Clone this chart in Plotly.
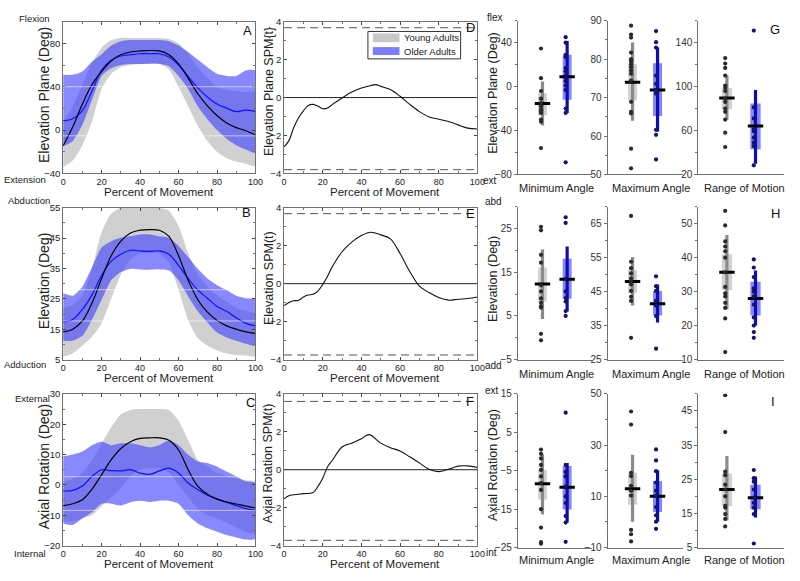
import plotly.graph_objects as go

W, H = 800, 581

# ---------------- time-normalised curves (percent of movement) ----------------
pct = [0, 5, 10, 15, 20, 25, 30, 35, 40, 45, 50, 55, 60, 65, 70, 75, 80, 85, 90, 95, 100]

# Panel A : elevation plane
A_young_mean = [-14.5, 3, 24, 42, 54, 64, 69.5, 72, 73, 73.4, 73, 69.5, 61, 48, 33.5, 22.4, 13.4, 6.5, 2.3, -0.6, -4.5]
A_young_up = [8, 22, 42, 62, 76, 83, 85, 85, 85, 85, 85, 84, 80, 70, 58, 48, 40, 37, 36, 35, 35]
A_young_lo = [-34, -28, -14, 8, 38, 52, 58, 60, 61, 62, 61, 56, 40, 22, 4, -10, -20, -26, -29, -31, -33]
A_older_mean = [8.5, 10.4, 18, 36, 55.4, 64.4, 68.3, 69.5, 70.4, 70.4, 70.4, 67.4, 60, 49.4, 39, 30.5, 24, 20.3, 17, 18.5, 17.3]
A_older_up = [51, 51, 54, 63, 70, 78, 82, 83, 83, 83, 83, 82, 78, 72, 65, 58, 52, 50, 50, 55, 55]
A_older_lo = [-15, -10, 5, 28, 50, 57, 60, 61, 61, 61, 61, 59, 50, 38, 22, 10, 0, -8, -14, -18, -21]

# Panel B : elevation
B_young_mean = [14.1, 15, 17.7, 23.6, 31.7, 39.2, 44, 46.7, 47.6, 47.8, 47.6, 45.6, 39.2, 31.1, 24.7, 20.6, 17.9, 16.1, 15, 14.1, 13.6]
B_young_up = [22, 23, 26, 35, 47, 53, 55, 55, 55, 55, 55, 54, 49, 40, 33, 29, 26, 24, 22, 21, 20]
B_young_lo = [5.9, 7, 9.6, 12.5, 17, 25, 33, 38, 40, 40, 40, 37, 28, 18, 12, 9.6, 8, 7, 6.5, 6.3, 6.2]
B_older_mean = [17.4, 18.2, 21.5, 26.3, 32.7, 37.4, 39.7, 41, 40.8, 40.6, 40.8, 39.7, 36, 31.7, 27.9, 25.2, 22.5, 20.9, 18.8, 16.9, 16.1]
B_older_up = [26.8, 26, 29, 35.4, 41.9, 44, 45.1, 45.6, 46.2, 46.2, 45.6, 45.1, 42.4, 38.7, 34.9, 31.7, 29.5, 27.9, 26, 25.2, 24.7]
B_older_lo = [11.2, 11.2, 12.8, 18.2, 24.7, 31.1, 33.8, 34.9, 34.7, 34.6, 34.7, 34.4, 31.1, 25.8, 20.9, 17.2, 13.9, 12.3, 11.2, 10.2, 9.6]

# Panel C : axial rotation
C_young_mean = [-6.8, -6.2, -4.9, -1.4, 3.4, 8.3, 12, 14.2, 15.3, 15.5, 15.5, 14.7, 11.5, 5, -0.4, -3.1, -4.7, -5.6, -6.3, -7, -7.6]
C_young_up = [1, 2, 4, 8, 13.7, 19, 23.3, 24.7, 25, 25, 25, 24.7, 21.2, 14.7, 8.2, 6, 4, 3, 2, 1.5, 1]
C_young_lo = [-12, -12, -11, -10, -7, -4, -1, 3, 5, 5.5, 5.5, 4, 0, -4, -8, -10, -11, -12.5, -14, -15.5, -16]
C_older_mean = [-2, -1.8, -0.4, 2.8, 5, 4.7, 4.6, 5, 3.9, 3.5, 4.6, 5.5, 3.9, 0.6, -1.5, -3.4, -4.7, -5.8, -6.8, -7.8, -8.4]
C_older_up = [9.4, 10, 11, 13.1, 14.2, 13.1, 13.7, 13.7, 13.1, 12.4, 13.1, 14.7, 13.1, 9.9, 7.7, 7.2, 6, 4.4, 2.8, 1.2, 0.6]
C_older_lo = [-12.7, -13.2, -11, -9, -6.2, -6.2, -6.8, -5.7, -5.2, -5.6, -5.2, -5.2, -6.2, -10, -12.7, -14.3, -15.4, -16.5, -17.3, -18, -17.7]

# faint light rules that run across the bands in the original panels
A_rules = [40, -5.3]
B_rules = [28, 17.7]
C_rules = [2.7, -8.4]

# SPM{t} curves
D_x = [0, 2.5, 5, 7.5, 10, 12.5, 15, 17.5, 20, 22.5, 25, 30, 35, 40, 45, 47.5, 50, 55, 60, 65, 70, 75, 80, 85, 90, 95, 100]
D_t = [-2.6, -2.27, -1.58, -1.06, -0.7, -0.42, -0.36, -0.45, -0.59, -0.55, -0.36, -0.02, 0.29, 0.5, 0.64, 0.68, 0.59, 0.42, 0.07, -0.36, -0.74, -1.02, -1.14, -1.26, -1.44, -1.61, -1.66]
E_x = [0, 2.5, 5, 7.5, 10, 12.5, 15, 17.5, 20, 22.5, 25, 30, 35, 40, 45, 50, 55, 60, 65, 70, 75, 80, 85, 90, 95, 100]
E_t = [-1.16, -0.99, -0.9, -0.88, -0.7, -0.6, -0.56, -0.39, -0.04, 0.39, 0.9, 1.68, 2.19, 2.54, 2.71, 2.57, 2.36, 1.59, 0.64, -0.13, -0.47, -0.73, -0.87, -0.82, -0.78, -0.7]
F_x = [0, 2.5, 5, 10, 15, 17.5, 20, 22.5, 25, 30, 35, 40, 44, 50, 55, 60, 65, 70, 75, 80, 85, 90, 95, 100]
F_t = [-1.54, -1.37, -1.32, -1.26, -1.2, -0.88, -0.45, 0.16, 0.5, 1.2, 1.4, 1.63, 1.85, 1.4, 1.16, 0.99, 0.68, 0.36, 0.02, -0.1, 0.02, 0.19, 0.2, 0.12]
D_thr = [3.68, -3.8]
E_thr = [3.69, -3.76]
F_thr = [3.6, -3.72]

# ---------------- summary boxes: stats = [whisker_lo, q1, median, q3, whisker_hi] ----------------
G_min_young_dots = [34.7, 7.7, -4, -11, -15, -18, -21, -23, -24, -30, -32, -56]
G_min_young_stats = [-35.5, -26, -15.4, -6, 4.7]
G_min_older_dots = [45, 40, 29, 27, 17, 14, 10, 8, 5, 1, -3, -20, -24, -69]
G_min_older_stats = [-24, -12, 9, 29, 41.5]
G_max_young_dots = [88.7, 86.4, 85.6, 81.7, 80, 79.4, 78.7, 77.9, 77, 76.2, 74.4, 68.9, 66.3, 65.9, 56.7, 51.6]
G_max_young_stats = [64, 69.3, 74, 78.7, 84.3]
G_max_older_dots = [87.3, 84.4, 83, 75.7, 73.6, 72, 71, 61.6, 60.3, 53.9]
G_max_older_stats = [61.2, 65.2, 72, 78.9, 83]
G_rom_young_dots = [126, 121, 117, 110, 101, 99, 96, 89, 86, 80, 77, 70, 58, 45]
G_rom_young_stats = [70, 79.3, 89.6, 98.8, 110]
G_rom_older_dots = [151, 81, 71, 61.5, 59.4, 53.5, 49, 46, 28.3]
G_rom_older_stats = [29.8, 43, 64, 84.6, 97]

H_min_young_dots = [25.4, 24.6, 19, 17.2, 12, 10.6, 9, 8, 7.2, 6.9, 0.9, -0.6]
H_min_young_stats = [4.3, 8.3, 12.3, 16.1, 20.2]
H_min_older_dots = [27.6, 26.3, 13.5, 10.6, 9.1, 8.3, 6.1, 5]
H_min_older_stats = [6, 8.9, 13.4, 18.1, 20.9]
H_max_young_dots = [67.3, 53.8, 51.9, 50.4, 48.9, 48, 47.1, 45.2, 43.5, 42.3, 31.4]
H_max_young_stats = [40.9, 44.7, 48, 51.4, 55.2]
H_max_older_dots = [49.5, 46.6, 45.2, 42.3, 40.9, 37.8, 28.2]
H_max_older_stats = [35.9, 38, 41.4, 45.2, 47.1]
H_rom_young_dots = [53.8, 49.5, 44.8, 43.3, 41.9, 40, 35.7, 31.4, 29.5, 28.6, 26.7, 25.2, 22.1, 12.2]
H_rom_young_stats = [24.8, 30.5, 35.7, 41, 46.7]
H_rom_older_dots = [39.5, 37.1, 34.3, 31, 30, 28.6, 26.2, 22.4, 20, 18.1, 16.4]
H_rom_older_stats = [20, 23, 28, 32.9, 36.2]

I_min_young_dots = [0.5, -0.6, -1.8, -3.5, -4.8, -6.5, -8.2, -10, -15, -19.8, -23.6, -24]
I_min_young_stats = [-16.4, -12.5, -8.4, -4.8, -0.7]
I_min_older_dots = [10.1, -3.5, -5.3, -6.5, -9.1, -11.7, -13.4, -16.8, -18.5, -23.5]
I_min_older_stats = [-18.5, -15.1, -9.3, -3.8, -3]
I_max_young_dots = [43.1, 38, 19.2, 17.9, 14.1, 12.2, 10.3, -3.1, -4.8, -7.6]
I_max_young_stats = [0.1, 6.7, 13, 19.2, 26.2]
I_max_older_dots = [28.3, 24, 19.8, 15.4, 12.2, 10.3, 5.8, 2.6, 0.1, -2.7]
I_max_older_stats = [0.1, 3.9, 10, 16, 20.2]
I_rom_young_dots = [49.6, 38.8, 27.2, 26.2, 23.4, 22, 20, 17.2, 16.7, 14.8, 13.4, 11.2]
I_rom_young_stats = [12.9, 17.2, 22, 26.7, 31.8]
I_rom_older_dots = [27.7, 25.3, 24.3, 22, 19.6, 18.1, 16.7, 14.8, 6.2]
I_rom_older_stats = [13.8, 16.2, 19.6, 23.4, 25.8]

group_pos = [1, 2]          # young, older
group_names = ["Young Adults", "Older Adults"]

# ---------------- styling ----------------
REG = "Liberation Sans, Arial, sans-serif"
GRAY_FILL = "rgba(200,200,200,0.85)"
BLUE_FILL = "rgba(64,64,255,0.62)"
BOX_COL = ["#d2d2d2", "#8585ff"]
WHISK_COL = ["#8a8a8a", "#0d0db0"]
DOT_COL = ["#2a2a2a", "#141470"]
AXC = "#707070"

rows_px = [(16, 171), (206, 361), (396, 551)]
rows3_px = [(15, 172), (205, 361), (396, 553)]
col1 = (61, 256)
col2 = (285, 481)
col3 = [(522, 597), (613, 689), (705, 792)]

def xd(a, b):
    return [a / W, b / W]

def yd(t, b):
    return [1 - b / H, 1 - t / H]

fig = go.Figure()
layout = dict(width=W, height=H, autosize=False, margin=dict(l=0, r=0, t=0, b=0),
              paper_bgcolor="white", plot_bgcolor="white", barmode="overlay",
              showlegend=False)
shapes = []

counter = [0]

def new_axes(xdom, ydom, xcfg, ycfg):
    counter[0] += 1
    i = counter[0]
    s = "" if i == 1 else str(i)
    layout["xaxis" + s] = dict(domain=xdom, anchor="y" + s, **xcfg)
    layout["yaxis" + s] = dict(domain=ydom, anchor="x" + s, **ycfg)
    return "x" + s, "y" + s

def ts_axes(xdom, ydom, yrange, ytick):
    step = ytick[1] - ytick[0]
    xcfg = dict(range=[0, 100], tickvals=[0, 20, 40, 60, 80, 100], ticks="inside", ticklen=3,
                showline=True, linecolor=AXC, linewidth=1, mirror="ticks", showgrid=False,
                zeroline=False, tickfont=dict(family=REG, size=9, color="#222"),
                minor=dict(ticks="inside", ticklen=2, dtick=10, tick0=0, tickcolor=AXC))
    ycfg = dict(range=yrange, tickvals=ytick, ticks="inside", ticklen=3,
                showline=True, linecolor=AXC, linewidth=1, mirror="ticks", showgrid=False,
                zeroline=False, tickfont=dict(family=REG, size=9.5, color="#222"),
                minor=dict(ticks="inside", ticklen=2, dtick=step / 2, tick0=ytick[0], tickcolor=AXC))
    return new_axes(xdom, ydom, xcfg, ycfg)

def box_axes(xdom, ydom, yrange, ytick):
    step = ytick[1] - ytick[0]
    xcfg = dict(range=[0, 3], showticklabels=False, ticks="", showline=True, linecolor=AXC,
                linewidth=1, showgrid=False, zeroline=False, fixedrange=True)
    ycfg = dict(range=yrange, tickvals=ytick, ticks="outside", ticklen=3, tickcolor=AXC,
                showline=True, linecolor=AXC, linewidth=1, showgrid=False, zeroline=False,
                tickfont=dict(family=REG, size=10, color="#333"),
                minor=dict(ticks="outside", ticklen=2, dtick=step / 2, tick0=ytick[0], tickcolor=AXC))
    return new_axes(xdom, ydom, xcfg, ycfg)

def add_kinematics(xa, ya, ym, yu, yl, om, ou, ol, rules):
    fig.add_trace(go.Scatter(x=pct + pct[::-1], y=yu + yl[::-1], fill="toself", fillcolor=GRAY_FILL,
                             line=dict(width=0, shape="spline", smoothing=0.6), mode="lines",
                             name=group_names[0], hoverinfo="skip", xaxis=xa, yaxis=ya))
    fig.add_trace(go.Scatter(x=pct + pct[::-1], y=ou + ol[::-1], fill="toself", fillcolor=BLUE_FILL,
                             line=dict(width=0, shape="spline", smoothing=0.6), mode="lines",
                             name=group_names[1], hoverinfo="skip", xaxis=xa, yaxis=ya))
    for r in rules:
        shapes.append(dict(type="line", xref=xa + " domain", yref=ya, x0=0, x1=1, y0=r, y1=r,
                           line=dict(color="rgba(255,255,255,0.55)", width=1), layer="above"))
    fig.add_trace(go.Scatter(x=pct, y=om, mode="lines", line=dict(color="#1010ff", width=1.2, shape="spline"),
                             xaxis=xa, yaxis=ya))
    fig.add_trace(go.Scatter(x=pct, y=ym, mode="lines", line=dict(color="#000000", width=1.2, shape="spline"),
                             xaxis=xa, yaxis=ya))

def add_spm(xa, ya, xs, ts, thr):
    for t in thr:
        fig.add_trace(go.Scatter(x=[0, 100], y=[t, t], mode="lines",
                                 line=dict(color="#555", width=1, dash="8px,5px"),
                                 xaxis=xa, yaxis=ya))
    fig.add_trace(go.Scatter(x=[0, 100], y=[0, 0], mode="lines", line=dict(color="#222", width=1),
                             xaxis=xa, yaxis=ya))
    fig.add_trace(go.Scatter(x=xs, y=ts, mode="lines", line=dict(color="#111", width=1.1, shape="spline"),
                             xaxis=xa, yaxis=ya))

def add_boxes(xa, ya, groups):
    for g, (dots, st) in enumerate(groups):
        p = group_pos[g]
        fig.add_trace(go.Scatter(x=[p, p], y=[st[0], st[4]], mode="lines",
                                 line=dict(color=WHISK_COL[g], width=3.2), xaxis=xa, yaxis=ya))
        fig.add_trace(go.Bar(x=[p], y=[st[3] - st[1]], base=[st[1]], width=0.36,
                             marker=dict(color=BOX_COL[g], line=dict(width=0)), xaxis=xa, yaxis=ya))
        fig.add_trace(go.Scatter(x=[p], y=[st[2]], mode="markers",
                                 marker=dict(symbol="line-ew", size=11, line=dict(color="#000", width=3)),
                                 xaxis=xa, yaxis=ya))
        fig.add_trace(go.Scatter(x=[p - 0.06] * len(dots), y=dots, mode="markers",
                                 marker=dict(color=DOT_COL[g], size=4.2), xaxis=xa, yaxis=ya))

# ---------------- row 1 ----------------
xa, ya = ts_axes(xd(*col1), yd(*rows_px[0]), [-40, 100], [-40, 0, 40, 80])
add_kinematics(xa, ya, A_young_mean, A_young_up, A_young_lo, A_older_mean, A_older_up, A_older_lo, A_rules)
xa, ya = ts_axes(xd(*col2), yd(*rows_px[0]), [-4, 4], [-4, -2, 0, 2, 4])
add_spm(xa, ya, D_x, D_t, D_thr)
xa, ya = box_axes(xd(*col3[0]), yd(*rows3_px[0]), [-80, 60], [-80, -40, 0, 40])
add_boxes(xa, ya, [(G_min_young_dots, G_min_young_stats), (G_min_older_dots, G_min_older_stats)])
xa, ya = box_axes(xd(*col3[1]), yd(*rows3_px[0]), [50, 90], [50, 60, 70, 80, 90])
add_boxes(xa, ya, [(G_max_young_dots, G_max_young_stats), (G_max_older_dots, G_max_older_stats)])
xa, ya = box_axes(xd(*col3[2]), yd(*rows3_px[0]), [20, 160], [20, 60, 100, 140])
add_boxes(xa, ya, [(G_rom_young_dots, G_rom_young_stats), (G_rom_older_dots, G_rom_older_stats)])

# ---------------- row 2 ----------------
xa, ya = ts_axes(xd(*col1), yd(*rows_px[1]), [5, 55], [5, 15, 25, 35, 45, 55])
add_kinematics(xa, ya, B_young_mean, B_young_up, B_young_lo, B_older_mean, B_older_up, B_older_lo, B_rules)
xa, ya = ts_axes(xd(*col2), yd(*rows_px[1]), [-4, 4], [-4, -2, 0, 2, 4])
add_spm(xa, ya, E_x, E_t, E_thr)
xa, ya = box_axes(xd(*col3[0]), yd(*rows3_px[1]), [-5, 30], [-5, 5, 15, 25])
add_boxes(xa, ya, [(H_min_young_dots, H_min_young_stats), (H_min_older_dots, H_min_older_stats)])
xa, ya = box_axes(xd(*col3[1]), yd(*rows3_px[1]), [25, 70], [25, 35, 45, 55, 65])
add_boxes(xa, ya, [(H_max_young_dots, H_max_young_stats), (H_max_older_dots, H_max_older_stats)])
xa, ya = box_axes(xd(*col3[2]), yd(*rows3_px[1]), [10, 55], [10, 20, 30, 40, 50])
add_boxes(xa, ya, [(H_rom_young_dots, H_rom_young_stats), (H_rom_older_dots, H_rom_older_stats)])

# ---------------- row 3 ----------------
xa, ya = ts_axes(xd(*col1), yd(*rows_px[2]), [-20, 30], [-20, -10, 0, 10, 20, 30])
add_kinematics(xa, ya, C_young_mean, C_young_up, C_young_lo, C_older_mean, C_older_up, C_older_lo, C_rules)
xa, ya = ts_axes(xd(*col2), yd(*rows_px[2]), [-4, 4], [-4, -2, 0, 2, 4])
add_spm(xa, ya, F_x, F_t, F_thr)
xa, ya = box_axes(xd(*col3[0]), yd(*rows3_px[2]), [-25, 15], [-25, -15, -5, 5, 15])
add_boxes(xa, ya, [(I_min_young_dots, I_min_young_stats), (I_min_older_dots, I_min_older_stats)])
xa, ya = box_axes(xd(*col3[1]), yd(*rows3_px[2]), [-10, 50], [-10, 10, 30, 50])
add_boxes(xa, ya, [(I_max_young_dots, I_max_young_stats), (I_max_older_dots, I_max_older_stats)])
xa, ya = box_axes(xd(*col3[2]), yd(*rows3_px[2]), [5, 50], [5, 15, 25, 35, 45])
add_boxes(xa, ya, [(I_rom_young_dots, I_rom_young_stats), (I_rom_older_dots, I_rom_older_stats)])

# ---------------- text ----------------
ann = []

def txt(s, px, py, size=12, xa="center", ya="middle", angle=0, color="#222"):
    ann.append(dict(text=s, x=px / W, y=1 - py / H, xref="paper", yref="paper", showarrow=False,
                    xanchor=xa, yanchor=ya, textangle=angle,
                    font=dict(family=REG, size=size, color=color)))

ytitles1 = ["Elevation Plane (Deg)", "Elevation (Deg)", "Axial Rotation (Deg)"]
ytitles2 = ["Elevation Plane SPM{t}", "Elevation SPM(t)", "Axial Rotation SPM(t)"]
for r, (t, b) in enumerate(rows_px):
    mid = (t + b) / 2
    txt(ytitles1[r], 41, mid - 3, size=14, angle=-90)
    txt(ytitles2[r], 269, mid - 6, size=12.5, angle=-90)
    txt(ytitles1[r], 497, mid - 5, size=12.5, angle=-90)
    txt("Percent of Movement", 158, b + 19, size=11.5)
    txt("Percent of Movement", 387, b + 19, size=11.5)
    txt("Minimum Angle", 561, b + 15, size=11)
    txt("Maximum Angle", 657, b + 15, size=11)
    txt("Range of Motion", 752, b + 15, size=11)

side = [("Flexion", 13, "Extension", 177), ("Abduction", 199, "Adduction", 366),
        ("External", 401, "Internal", 559)]
for top, ty, bot, by in side:
    txt(top, 50, ty, size=9.5, xa="right")
    txt(bot, 46, by, size=9.5, xa="right")

side3 = [("flex", 499, 12), ("ext", 494, 178), ("abd", 497, 200), ("add", 497, 367),
         ("ext", 496, 393), ("int", 495, 558)]
for s, px, py in side3:
    txt(s, px, py, size=10)

letters = [("A", 248, 25), ("D", 474, 22), ("G", 783, 24), ("B", 247, 211), ("E", 474, 212),
           ("H", 783, 212), ("C", 251, 405), ("F", 474, 404), ("I", 781, 404)]
for s, px, py in letters:
    txt(s, px, py, size=13, color="#111")

# legend (drawn as a compact key like the original)
shapes.append(dict(type="rect", xref="paper", yref="paper", x0=370 / W, x1=464 / W,
                   y0=1 - 54 / H, y1=1 - 26 / H, line=dict(color="#333", width=1), fillcolor="white",
                   layer="above"))
key_fill = ["#c8c8c8", "#7c7cff"]
for k, (ty, by) in enumerate([(28, 37), (42, 50)]):
    shapes.append(dict(type="rect", xref="paper", yref="paper", x0=375 / W, x1=402 / W,
                       y0=1 - by / H, y1=1 - ty / H, line=dict(width=0), fillcolor=key_fill[k],
                       layer="above"))
    txt(group_names[k], 405, (ty + by) / 2, size=9.5, xa="left")

layout["annotations"] = ann
layout["shapes"] = shapes
fig.update_layout(**layout)
fig.write_html("out.html", config={"displayModeBar": False},
               post_script="document.body.style.margin='0px';")
